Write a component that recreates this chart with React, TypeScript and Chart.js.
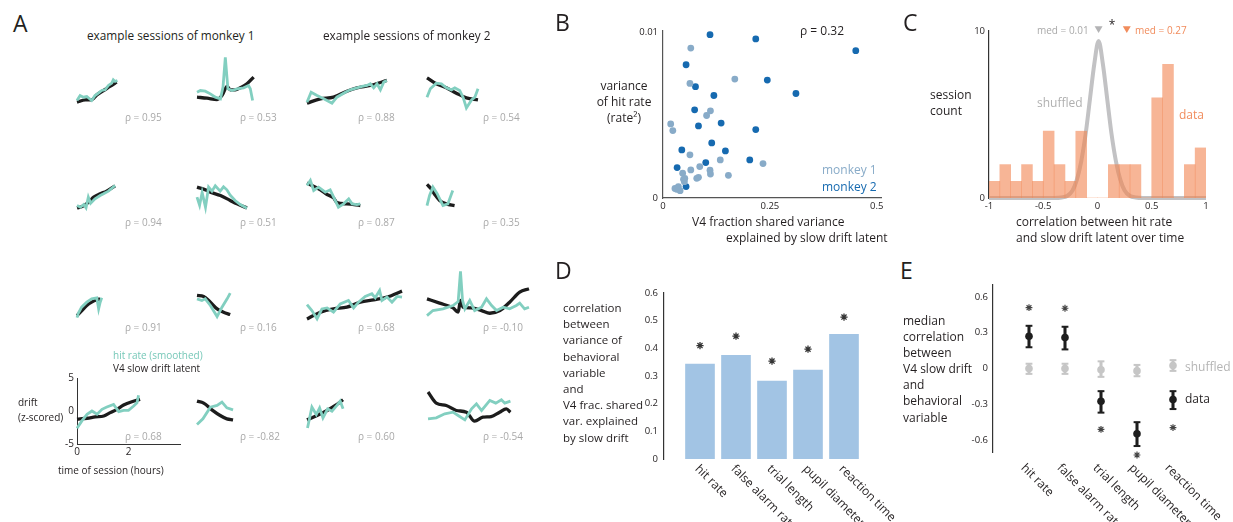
import React, { useEffect, useRef } from "react";
import { Chart, registerables } from "chart.js";
Chart.register(...registerables);

const FONT = "'Open Sans', 'DejaVu Sans', sans-serif";
const INK = "#231f20";
const TEAL = "rgb(130,207,192)";
const DRIFT = "#1c1c1c";
const GRAY_TXT = "#a9a9a9";
const LIGHT_BLUE = "rgb(136,171,200)";
const DARK_BLUE = "rgb(22,106,176)";
const ORANGE_TXT = "rgb(241,140,92)";
const BAR_BLUE = "#a2c4e4";
const SHUF = "#c6c6c6";

type Pt = [number, number];

// ---------------- Panel A: example sessions [time (h), z-score] ----------------
const r1c1Drift: Pt[] = [[0,-1.6],[0.32,-1.24],[0.58,-1.2],[0.77,-0.5],[1.03,0.15],[1.28,0.75],[1.54,1.4]];
const r1c1Hit: Pt[] = [[0,-1.35],[0.12,-0.6],[0.25,-0.85],[0.38,-0.75],[0.57,-1.35],[0.7,-0.6],[0.83,-0.25],[0.96,0.15],[1.09,0.25],[1.22,0.9],[1.35,1.25],[1.41,1.75],[1.48,1.5],[1.57,1.65]];
const r1c2Drift: Pt[] = [[0,-0.85],[0.39,-1.0],[0.78,-1.2],[0.97,-0.6],[1.17,0.75],[1.29,0.25],[1.49,0.25],[1.68,0.55],[1.94,1.15],[2.2,2.15]];
const r1c2Hit: Pt[] = [[0,-0.1],[0.13,0.15],[0.32,0.05],[0.52,-0.35],[0.71,-0.85],[0.91,-1.1],[1.01,0.65],[1.1,5.1],[1.2,0.4],[1.36,0.15],[1.55,0.4],[1.81,0.55],[2.0,0.9],[2.07,0.4],[2.16,-1.35]];
const r1c3Drift: Pt[] = [[0,-1.75],[0.52,-1.1],[1.03,-0.85],[1.55,0.05],[1.94,0.55],[2.46,0.9],[3.1,1.65]];
const r1c3Hit: Pt[] = [[0,-1.6],[0.16,-0.1],[0.39,-0.6],[0.65,-1.1],[0.97,-1.75],[1.16,-0.85],[1.49,-0.1],[1.68,0.25],[1.94,0.55],[2.14,0.75],[2.33,0.9],[2.46,1.15],[2.59,0.55],[2.72,1.15],[2.85,0.25],[2.98,1.4],[3.1,1.65]];
const r1c4Drift: Pt[] = [[0,2.05],[0.36,1.15],[0.75,0.55],[1.14,-0.25],[1.53,-0.95],[1.98,-1.25]];
const r1c4Hit: Pt[] = [[0,-0.85],[0.13,0.4],[0.36,1.25],[0.56,1.15],[0.75,0.55],[0.95,0.25],[1.08,0.55],[1.27,0.15],[1.4,-0.85],[1.53,-2.45],[1.73,-1.25],[1.86,-0.85],[1.98,0.4]];

const r2c1Drift: Pt[] = [[0,-1.7],[0.2,-1.5],[0.45,-0.85],[0.65,-0.1],[0.9,0.4],[1.15,0.8],[1.48,1.6]];
const r2c1Hit: Pt[] = [[0,-1.35],[0.13,-1.6],[0.26,-1.2],[0.35,-1.7],[0.44,-0.1],[0.53,-1.0],[0.7,-0.35],[0.9,0.15],[1.03,0.4],[1.22,0.8],[1.48,1.65]];
const r2c2Drift: Pt[] = [[0,1.4],[0.39,0.9],[0.52,0.65],[0.91,0.15],[1.29,-0.6],[1.55,-1.1],[1.94,-1.7]];
const r2c2Hit: Pt[] = [[0,-0.1],[0.1,-1.3],[0.2,0.6],[0.33,-1.6],[0.45,1.4],[0.58,0.8],[0.71,1.6],[0.9,0.8],[1.03,1.45],[1.16,1.0],[1.29,0.2],[1.48,-0.6],[1.68,-1.2],[1.94,-1.75]];
const r2c3Drift: Pt[] = [[0,2.0],[0.52,1.0],[0.78,0.3],[1.03,-0.2],[1.16,-0.9],[1.55,-1.1],[2.07,-1.35]];
const r2c3Hit: Pt[] = [[0,1.65],[0.13,2.4],[0.26,0.9],[0.45,1.4],[0.71,0.65],[0.9,1.0],[1.22,-1.6],[1.42,-1.1],[1.62,-0.35],[1.75,-1.1],[1.94,-1.2],[2.07,-1.1]];
const r2c4Drift: Pt[] = [[0,1.8],[0.15,1.2],[0.3,0.3],[0.49,-0.6],[0.75,-1.1],[1.07,-1.35]];
const r2c4Hit: Pt[] = [[0,-1.35],[0.1,0.15],[0.23,1.4],[0.4,0.4],[0.62,-1.35],[0.81,-1.1],[1.0,0.9]];

const r3c1Drift: Pt[] = [[0,-2.1],[0.19,-1.35],[0.38,-0.6],[0.57,-0.1],[0.77,0.25],[0.9,0.4]];
const r3c1Hit: Pt[] = [[0,-2.4],[0.05,-1.75],[0.18,-0.85],[0.38,-0.1],[0.57,0.4],[0.77,0.55],[0.84,-1.1],[0.9,-0.1],[0.96,0.55]];
const r3c2Drift: Pt[] = [[0,0.9],[0.26,0.75],[0.52,-0.1],[0.78,-1.1],[1.03,-1.6],[1.29,-1.95]];
const r3c2Hit: Pt[] = [[0,0.4],[0.19,0.15],[0.32,0.4],[0.52,-0.6],[0.78,-2.25],[0.97,-0.85],[1.17,0.4],[1.29,1.25]];
const r3c3Drift: Pt[] = [[0,-2.6],[0.52,-1.6],[1.03,-1.1],[1.55,-0.85],[2.07,-0.1],[2.59,0.25],[3.11,0.65],[3.69,1.55]];
const r3c3Hit: Pt[] = [[0,-0.45],[0.19,-1.35],[0.39,-2.6],[0.58,-1.1],[0.78,-0.95],[1.03,-1.6],[1.29,-0.35],[1.61,0.15],[1.81,-0.95],[2.0,-0.1],[2.26,0.75],[2.52,1.15],[2.65,0.55],[2.82,1.65],[2.91,0.15],[3.11,0.65],[3.3,-0.1],[3.5,0.75],[3.69,0.65]];
const r3c4Drift: Pt[] = [[0,0.4],[0.49,-0.25],[1.01,-0.95],[1.21,-1.6],[1.3,0.15],[1.4,-0.85],[1.73,-0.95],[2.12,-1.35],[2.44,-1.75],[2.83,-1.35],[3.21,-0.1],[3.6,1.4],[3.96,1.9]];
const r3c4Hit: Pt[] = [[0,-2.1],[0.23,-1.35],[0.62,-1.1],[1.01,-0.6],[1.21,0],[1.3,4.5],[1.38,0.15],[1.47,-1.1],[1.66,0.15],[1.85,-1.35],[2.12,-0.85],[2.31,0.4],[2.51,-0.6],[2.7,-1.35],[2.96,-0.85],[3.21,-1.1],[3.47,-0.6],[3.6,-0.25],[3.79,-1.1],[3.96,-0.85]];

const r4c1Drift: Pt[] = [[0,-1.25],[0.39,-1.1],[0.71,-0.9],[1.04,-0.75],[1.29,-0.25],[1.55,0.25],[1.81,0.9],[2.13,1.4],[2.45,1.75]];
const r4c1Hit: Pt[] = [[0,-2.6],[0.19,-1.5],[0.39,-0.5],[0.58,0],[0.78,-0.5],[0.97,0.25],[1.16,0.6],[1.42,1.0],[1.62,-0.1],[1.81,0.1],[2.0,0.1],[2.2,0.75],[2.33,1.25],[2.39,2.4]];
const r4c2Drift: Pt[] = [[0,1.4],[0.26,1.1],[0.58,0.1],[0.9,-0.75],[1.16,-1.25],[1.4,-1.4]];
const r4c2Hit: Pt[] = [[0,-2.1],[0.23,-1.25],[0.52,0.5],[0.78,0.75],[0.97,1.25],[1.16,0.4],[1.4,0.1]];
const r4c3Drift: Pt[] = [[0,-1.4],[0.39,-0.75],[0.78,0],[1.1,0.75],[1.4,1.6]];
const r4c3Hit: Pt[] = [[0.02,-2.6],[0.19,0.5],[0.36,-0.6],[0.49,0.4],[0.62,-1.1],[0.8,0.25],[0.97,-0.1],[1.16,0.75],[1.29,1.4],[1.4,0.25]];
const r4c4Drift: Pt[] = [[0.04,2.75],[0.36,1.1],[0.75,0.75],[1.14,0],[1.53,-0.25],[1.85,-1.6],[2.17,-1.0],[2.49,-0.9],[2.82,-0.25],[3.08,0.25],[3.24,-0.25]];
const r4c4Hit: Pt[] = [[0.04,-1.25],[0.36,-1.1],[0.69,-0.5],[1.01,-0.25],[1.21,-0.75],[1.47,-1.4],[1.73,0.25],[1.92,1.0],[2.12,0],[2.44,1.5],[2.67,1.1],[2.89,1.6],[3.02,1.1],[3.24,1.4]];

const rhoRow1 = ["0.95", "0.53", "0.88", "0.54"];
const rhoRow2 = ["0.94", "0.51", "0.87", "0.35"];
const rhoRow3 = ["0.91", "0.16", "0.68", "-0.10"];
const rhoRow4 = ["0.68", "-0.82", "0.60", "-0.54"];
const miniXTicks = [0, 2];
const miniYTicks = [-5, 0, 5];

// ---------------- Panel B ----------------
const monkey1Pts: Pt[] = [[0.065,0.00907],[0.168,0.00719],[0.063,0.00693],[0.111,0.00527],[0.102,0.00499],[0.018,0.00448],[0.023,0.00408],[0.063,0.00261],[0.134,0.0023],[0.234,0.00208],[0.086,0.0019],[0.065,0.0017],[0.110,0.00168],[0.046,0.0015],[0.153,0.00137],[0.111,0.00145],[0.079,0.00119],[0.051,0.00119],[0.050,0.00099],[0.032,0.00053],[0.040,0.00044],[0.028,0.00058],[0.036,0.00069],[0.083,0.00125],[0.048,0.00113]];
const monkey2Pts: Pt[] = [[0.110,0.00988],[0.217,0.00962],[0.451,0.00891],[0.054,0.00806],[0.244,0.00713],[0.076,0.00673],[0.119,0.0062],[0.311,0.00632],[0.074,0.00533],[0.083,0.00436],[0.136,0.00453],[0.217,0.00414],[0.114,0.00333],[0.044,0.00291],[0.146,0.00285],[0.100,0.00214],[0.203,0.0023],[0.033,0.00184],[0.054,0.00069]];
const bXTicks = [0, 0.25, 0.5];
const bYTicks = [0, 0.01];

// ---------------- Panel C ----------------
const histBinCenters = [-0.95,-0.85,-0.75,-0.65,-0.55,-0.45,-0.35,-0.25,-0.15,-0.05,0.05,0.15,0.25,0.35,0.45,0.55,0.65,0.75,0.85,0.95];
const histCounts = [1,2,1,2,1,4,2,1,4,0,0,2,2,2,0,6,8,0,2,3];
const shuffledX = [-1,-0.4,-0.33,-0.28,-0.23,-0.19,-0.15,-0.11,-0.07,-0.03,0.01,0.05,0.09,0.13,0.17,0.21,0.25,0.3,0.35,0.42,1];
const shuffledY = [0,0,0.03,0.12,0.45,1.1,2.2,3.8,5.9,8.0,9.4,8.0,5.9,3.8,2.2,1.1,0.45,0.12,0.03,0,0];
const medShuffled = 0.01;
const medData = 0.27;
const cXTicks = [-1, -0.5, 0, 0.5, 1];
const cYTicks = [0, 10];

// ---------------- Panels D & E ----------------
const behavLabels = ["hit rate", "false alarm rate", "trial length", "pupil diameter", "reaction time"];
const corrOfVariance = [0.343, 0.375, 0.282, 0.321, 0.451];
const corrStarD = [0.41, 0.444, 0.354, 0.397, 0.513];
const dYTicks = [0, 0.1, 0.2, 0.3, 0.4, 0.5, 0.6];

const dataMed = [0.27, 0.26, -0.275, -0.547, -0.26];
const dataLo = [0.178, 0.16, -0.37, -0.65, -0.34];
const dataHi = [0.358, 0.35, -0.19, -0.45, -0.19];
const shufMed = [0, 0, -0.01, -0.02, 0.025];
const shufLo = [-0.045, -0.045, -0.07, -0.065, -0.02];
const shufHi = [0.04, 0.04, 0.06, 0.03, 0.07];
const medStarE = [0.51, 0.505, -0.51, -0.725, -0.495];
const eYTicks = [-0.6, -0.3, 0, 0.3, 0.6];

// ---------------- helpers ----------------
const fixedTicks = (vals: number[]) => (s: any) => { s.ticks = vals.map((v) => ({ value: v })); };
const fixW = (w: number) => (s: any) => { s.width = w; };
const fixH = (h: number) => (s: any) => { s.height = h; };
const xy = (pts: Pt[]) => pts.map(([x, y]) => ({ x, y }));
const noGrid = { display: false, drawTicks: false };
const base = {
  responsive: false,
  animation: false,
  events: [] as any[],
  plugins: { legend: { display: false }, tooltip: { enabled: false } },
};

function rotatedLabels(labels: string[], dx: number, dy: number) {
  return {
    id: "rotLabels",
    afterDraw(chart: any) {
      const { ctx, chartArea } = chart;
      const x = chart.scales.x;
      ctx.save();
      ctx.font = `12px ${FONT}`;
      ctx.fillStyle = INK;
      ctx.textAlign = "left";
      ctx.textBaseline = "middle";
      labels.forEach((lab, i) => {
        ctx.save();
        ctx.translate(x.getPixelForValue(i + 1) + dx, chartArea.bottom + dy);
        ctx.rotate(Math.PI / 4);
        ctx.fillText(lab, 0, 0);
        ctx.restore();
      });
      ctx.restore();
    },
  };
}

function ChartCanvas({ left, top, width, height, config }: any) {
  const ref = useRef<HTMLCanvasElement>(null);
  useEffect(() => {
    const chart = new Chart(ref.current as HTMLCanvasElement, config());
    return () => chart.destroy();
  }, []);
  return (
    <canvas
      ref={ref}
      width={width}
      height={height}
      style={{ position: "absolute", left, top, width, height }}
    />
  );
}

function miniConfig(hit: Pt[], drift: Pt[], axes: boolean): any {
  const tf = { family: FONT, size: 10 };
  return {
    type: "line",
    data: {
      datasets: [
        { data: xy(hit), borderColor: TEAL, borderWidth: 2.8, pointRadius: 0, tension: 0, order: 0, clip: false },
        { data: xy(drift), borderColor: DRIFT, borderWidth: 3.3, pointRadius: 0, cubicInterpolationMode: "monotone", order: 1, clip: false },
      ],
    },
    options: {
      ...base,
      layout: { padding: { top: 8, right: 10, left: 0, bottom: 0 } },
      scales: {
        x: {
          type: "linear", min: 0, max: 4, grid: noGrid,
          border: { display: axes, color: "#333", width: 1 },
          ticks: { display: axes, padding: 2, font: tf, color: INK },
          afterBuildTicks: fixedTicks(miniXTicks), afterFit: fixH(22),
        },
        y: {
          type: "linear", min: -5, max: 5, grid: noGrid,
          border: { display: axes, color: "#333", width: 1 },
          ticks: { display: axes, padding: 3, font: tf, color: INK },
          afterBuildTicks: fixedTicks(miniYTicks), afterFit: fixW(24),
        },
      },
    },
  };
}

function scatterConfig(): any {
  const tf = { family: FONT, size: 9.5 };
  return {
    type: "scatter",
    data: {
      datasets: [
        { data: xy(monkey1Pts), backgroundColor: LIGHT_BLUE, borderWidth: 0, pointRadius: 3.4 },
        { data: xy(monkey2Pts), backgroundColor: DARK_BLUE, borderWidth: 0, pointRadius: 3.4 },
      ],
    },
    options: {
      ...base,
      layout: { padding: { top: 31, right: 19, left: 0, bottom: 0 } },
      scales: {
        x: {
          type: "linear", min: 0, max: 0.51, grid: noGrid,
          border: { color: "#555", width: 1.2 },
          ticks: { padding: 3, font: tf, color: INK, callback: (v: number) => String(v) },
          afterBuildTicks: fixedTicks(bXTicks), afterFit: fixH(20),
        },
        y: {
          type: "linear", min: 0, max: 0.0101, grid: noGrid,
          border: { color: "#555", width: 1.2 },
          ticks: { padding: 5, font: tf, color: INK, callback: (v: number) => String(v) },
          afterBuildTicks: fixedTicks(bYTicks), afterFit: fixW(63),
        },
      },
    },
  };
}

function histConfig(): any {
  const tf = { family: FONT, size: 9.5 };
  return {
    type: "bar",
    data: {
      datasets: [
        {
          type: "bar",
          data: histBinCenters.map((x, i) => ({ x, y: histCounts[i] })),
          backgroundColor: "rgba(242,132,80,0.6)",
          barPercentage: 1, categoryPercentage: 1, order: 1,
        },
        {
          type: "line",
          data: shuffledX.map((x, i) => ({ x, y: shuffledY[i] })),
          borderColor: "#c2c2c4", borderWidth: 4, pointRadius: 0,
          cubicInterpolationMode: "monotone", order: 2, clip: false,
        },
        {
          type: "scatter",
          data: [{ x: medShuffled, y: 10.15 }],
          pointStyle: "triangle", pointRotation: 180, pointRadius: 4.6,
          backgroundColor: "#b3b3b5", pointBackgroundColor: "#b3b3b5", pointBorderWidth: 0, order: 0, clip: false,
        },
        {
          type: "scatter",
          data: [{ x: medData, y: 10.15 }],
          pointStyle: "triangle", pointRotation: 180, pointRadius: 4.6,
          backgroundColor: ORANGE_TXT, pointBackgroundColor: ORANGE_TXT, pointBorderWidth: 0, order: 0, clip: false,
        },
      ],
    },
    options: {
      ...base,
      layout: { padding: { top: 31, right: 27, left: 0, bottom: 0 } },
      scales: {
        x: {
          type: "linear", min: -1, max: 1, offset: false, grid: noGrid,
          border: { display: false },
          ticks: { padding: 3, font: tf, color: INK, callback: (v: number) => String(v) },
          afterBuildTicks: fixedTicks(cXTicks), afterFit: fixH(20),
        },
        y: {
          type: "linear", min: 0, max: 10, grid: noGrid,
          border: { color: "#333", width: 1.2 },
          ticks: { padding: 4, font: tf, color: INK },
          afterBuildTicks: fixedTicks(cYTicks), afterFit: fixW(49),
        },
      },
    },
  };
}

function barConfig(): any {
  const tf = { family: FONT, size: 9.5 };
  return {
    type: "bar",
    data: {
      datasets: [
        {
          type: "bar",
          data: corrOfVariance.map((y, i) => ({ x: i + 1, y })),
          backgroundColor: BAR_BLUE, barThickness: 29, order: 1,
        },
        {
          type: "scatter",
          data: corrStarD.map((y, i) => ({ x: i + 1, y })),
          pointStyle: "star", pointRadius: 3.6, pointBorderColor: "#333",
          borderColor: "#333", pointBorderWidth: 1.3, order: 0,
        },
      ],
    },
    options: {
      ...base,
      layout: { padding: { top: 13, right: 20, left: 0, bottom: 0 } },
      scales: {
        x: {
          type: "linear", min: 0, max: 6, offset: false, grid: noGrid,
          border: { display: false }, ticks: { display: false }, afterFit: fixH(63),
        },
        y: {
          type: "linear", min: 0, max: 0.6, grid: noGrid,
          border: { color: "#333", width: 1.2 },
          ticks: { padding: 6, font: tf, color: INK, callback: (v: number) => String(v) },
          afterBuildTicks: fixedTicks(dYTicks), afterFit: fixW(64),
        },
      },
    },
    plugins: [rotatedLabels(behavLabels, -3, 8)],
  };
}

function errConfig(): any {
  const tf = { family: FONT, size: 9.5 };
  const pts = (arr: number[]) => arr.map((y, i) => ({ x: i + 1, y }));
  const group = (color: string, med: number[], lo: number[], hi: number[], ord: number) => [
    {
      type: "bar", grouped: false,
      data: lo.map((l, i) => ({ x: i + 1, y: [l, hi[i]] })),
      backgroundColor: color, barThickness: 2.4, order: ord + 2,
    },
    {
      type: "scatter", data: [...pts(lo), ...pts(hi)],
      pointStyle: "line", pointRadius: 3.4, pointBorderColor: color, borderColor: color,
      pointBorderWidth: 2, order: ord + 1,
    },
    {
      type: "scatter", data: pts(med),
      pointRadius: 3.8, pointBackgroundColor: color, backgroundColor: color,
      pointBorderWidth: 0, order: ord,
    },
  ];
  return {
    type: "bar",
    data: {
      datasets: [
        ...group("#1e1e1e", dataMed, dataLo, dataHi, 0),
        ...group(SHUF, shufMed, shufLo, shufHi, 10),
        {
          type: "scatter", data: pts(medStarE),
          pointStyle: "star", pointRadius: 3.4, pointBorderColor: "#444",
          borderColor: "#444", pointBorderWidth: 1.2, order: 0, clip: false,
        },
      ],
    },
    options: {
      ...base,
      layout: { padding: { top: 15, right: 24, left: 0, bottom: 0 } },
      scales: {
        x: {
          type: "linear", min: 0, max: 6, offset: false, grid: noGrid,
          border: { display: false }, ticks: { display: false }, afterFit: fixH(70),
        },
        y: {
          type: "linear", min: -0.7, max: 0.7, grid: noGrid,
          border: { color: "#333", width: 1.2 },
          ticks: { padding: 5, font: tf, color: INK, callback: (v: number) => String(v) },
          afterBuildTicks: fixedTicks(eYTicks), afterFit: fixW(53),
        },
      },
    },
    plugins: [rotatedLabels(behavLabels, -6, 14)],
  };
}

// ---------------- text helpers ----------------
function Txt({ x, y, s, c = INK, a = "left", children }: any) {
  const tx = a === "left" ? "0" : a === "center" ? "-50%" : "-100%";
  return (
    <div
      style={{
        position: "absolute", left: x, top: y, fontSize: s, color: c, fontFamily: FONT,
        lineHeight: 1, whiteSpace: "nowrap", transform: `translate(${tx},-50%)`,
      }}
    >
      {children}
    </div>
  );
}

function Lines({ x, y, s, lh, lines, center = false, c = INK }: any) {
  return (
    <div
      style={{
        position: "absolute", left: x, top: y - lh / 2, fontSize: s, lineHeight: `${lh}px`,
        color: c, fontFamily: FONT, whiteSpace: "nowrap",
        textAlign: center ? "center" : "left",
        transform: center ? "translateX(-50%)" : undefined,
      }}
    >
      {lines.map((l: string, i: number) => (
        <div key={i}>{l}</div>
      ))}
    </div>
  );
}

const COL_X0 = [77, 197, 307, 427];
const ROW_Y0 = [91, 196, 301, 410];
const RHO_X = [125, 240, 358, 483];
const RHO_Y = [117, 222, 327, 436];

export default function App() {
  const sessions: [Pt[], Pt[]][][] = [
    [[r1c1Hit, r1c1Drift], [r1c2Hit, r1c2Drift], [r1c3Hit, r1c3Drift], [r1c4Hit, r1c4Drift]],
    [[r2c1Hit, r2c1Drift], [r2c2Hit, r2c2Drift], [r2c3Hit, r2c3Drift], [r2c4Hit, r2c4Drift]],
    [[r3c1Hit, r3c1Drift], [r3c2Hit, r3c2Drift], [r3c3Hit, r3c3Drift], [r3c4Hit, r3c4Drift]],
    [[r4c1Hit, r4c1Drift], [r4c2Hit, r4c2Drift], [r4c3Hit, r4c3Drift], [r4c4Hit, r4c4Drift]],
  ];
  const rhos = [rhoRow1, rhoRow2, rhoRow3, rhoRow4];
  const minis: any[] = [];
  const rhoTexts: any[] = [];
  for (let r = 0; r < 4; r++) {
    for (let c = 0; c < 4; c++) {
      const [hit, drift] = sessions[r][c];
      minis.push(
        <ChartCanvas
          key={`m${r}${c}`}
          left={COL_X0[c] - 24}
          top={Math.round(ROW_Y0[r] - 33.5) - 8}
          width={137}
          height={97}
          config={() => miniConfig(hit, drift, r === 3 && c === 0)}
        />
      );
      rhoTexts.push(
        <Txt key={`t${r}${c}`} x={RHO_X[c]} y={RHO_Y[r]} s={10} c={GRAY_TXT}>
          {`ρ = ${rhos[r][c]}`}
        </Txt>
      );
    }
  }

  return (
    <div
      style={{
        position: "fixed", left: 0, top: 0, width: 1233, height: 522,
        background: "#fff", overflow: "hidden", fontFamily: FONT,
      }}
    >
      {minis}
      <ChartCanvas left={600} top={0} width={300} height={218} config={scatterConfig} />
      <ChartCanvas left={940} top={0} width={293} height={218} config={histConfig} />
      <ChartCanvas left={600} top={280} width={300} height={242} config={barConfig} />
      <ChartCanvas left={940} top={270} width={293} height={252} config={errConfig} />

      {/* Panel A text */}
      <Txt x={13} y={23} s={23}>A</Txt>
      <Txt x={87} y={36} s={11.8}>example sessions of monkey 1</Txt>
      <Txt x={323} y={36} s={11.8}>example sessions of monkey 2</Txt>
      {rhoTexts}
      <Txt x={113} y={355} s={10} c="rgb(118,200,184)">hit rate (smoothed)</Txt>
      <Txt x={113} y={368} s={10}>V4 slow drift latent</Txt>
      <Txt x={18} y={402} s={10}>drift</Txt>
      <Txt x={18} y={417} s={10}>(z-scored)</Txt>
      <Txt x={58} y={470} s={10}>time of session (hours)</Txt>

      {/* Panel B text */}
      <Txt x={555} y={22} s={23}>B</Txt>
      <Lines x={624} y={86} s={12} lh={16} center lines={["variance", "of hit rate", "(rate²)"]} />
      <Txt x={800} y={31} s={12}>ρ = 0.32</Txt>
      <Txt x={822} y={170} s={12} c={LIGHT_BLUE}>monkey 1</Txt>
      <Txt x={822} y={187} s={12} c={DARK_BLUE}>monkey 2</Txt>
      <Txt x={692} y={222} s={12}>V4 fraction shared variance</Txt>
      <Txt x={726} y={238} s={12}>explained by slow drift latent</Txt>

      {/* Panel C text */}
      <Txt x={903} y={22} s={23}>C</Txt>
      <Txt x={1037} y={30} s={10} c={GRAY_TXT}>med = 0.01</Txt>
      <Txt x={1112} y={25} s={12} a="center">*</Txt>
      <Txt x={1135} y={30} s={10} c={ORANGE_TXT}>med = 0.27</Txt>
      <Txt x={930} y={95} s={12}>session</Txt>
      <Txt x={930} y={111} s={12}>count</Txt>
      <Txt x={1037} y={103} s={12} c="#b0b0b0">shuffled</Txt>
      <Txt x={1179} y={115} s={12} c={ORANGE_TXT}>data</Txt>
      <Txt x={1016} y={222} s={12}>correlation between hit rate</Txt>
      <Txt x={1016} y={238} s={12}>and slow drift latent over time</Txt>

      {/* Panel D text */}
      <Txt x={555} y={270} s={23}>D</Txt>
      <Lines
        x={563} y={308} s={11.5} lh={16.2}
        lines={["correlation", "between", "variance of", "behavioral", "variable", "and", "V4 frac. shared", "var. explained", "by slow drift"]}
      />

      {/* Panel E text */}
      <Txt x={900} y={270} s={23}>E</Txt>
      <Lines
        x={903} y={321} s={12} lh={16.1}
        lines={["median", "correlation", "between", "V4 slow drift", "and", "behavioral", "variable"]}
      />
      <Txt x={1185} y={367} s={12} c="#b5b5b5">shuffled</Txt>
      <Txt x={1185} y={399} s={12}>data</Txt>
    </div>
  );
}
